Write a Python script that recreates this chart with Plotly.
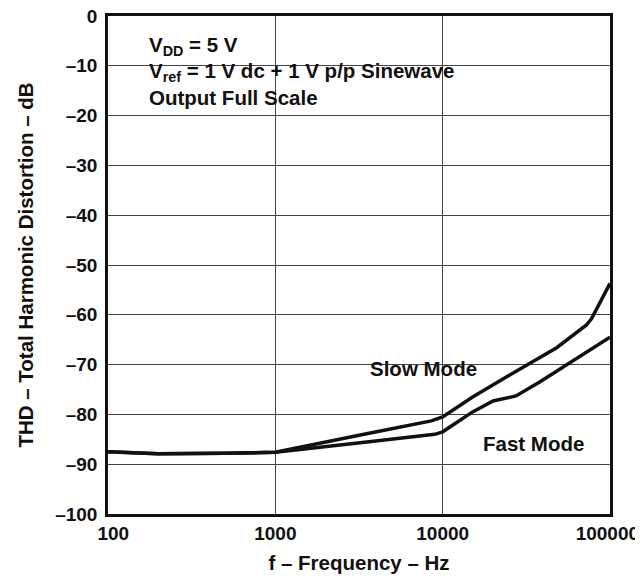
import plotly.graph_objects as go

# Slow mode curve
slow_f = [100, 200, 500, 1000, 3630, 8560, 10000, 15100, 24000, 38000, 48000, 72000, 77500, 100000]
slow_thd = [-87.5, -87.9, -87.8, -87.6, -83.8, -81.3, -80.5, -76.5, -72.5, -68.6, -66.6, -62.1, -60.8, -53.7]

# Fast mode curve
fast_f = [100, 200, 500, 1000, 3630, 8970, 10000, 15100, 20000, 27400, 38000, 60600, 75600, 100000]
fast_thd = [-87.5, -87.9, -87.8, -87.6, -85.5, -84.0, -83.5, -79.5, -77.3, -76.3, -73.5, -69.1, -67.1, -64.5]

x_ticks = [100, 1000, 10000, 100000]
x_ticktext = ["\u00a0\u00a0100", "1000", "10000", "100000\u00a0"]
y_ticks = [0, -10, -20, -30, -40, -50, -60, -70, -80, -90, -100]
y_ticktext = ["0"] + ["–" + str(-v) for v in y_ticks[1:]]

FONT = "Liberation Sans, Arial, Helvetica, sans-serif"

fig = go.Figure()
fig.add_trace(go.Scatter(x=slow_f, y=slow_thd, mode="lines",
                         line=dict(color="#111111", width=3.5), name="Slow Mode"))
fig.add_trace(go.Scatter(x=fast_f, y=fast_thd, mode="lines",
                         line=dict(color="#111111", width=3.5), name="Fast Mode"))

axis_common = dict(showgrid=True, gridcolor="#444444", gridwidth=1,
                   showline=True, linecolor="#111111", linewidth=2.5, mirror=True,
                   zeroline=False, ticks="", automargin=False, ticklabeloverflow="allow",
                   tickfont=dict(family=FONT, size=19, color="#111111", weight="bold"))

fig.update_xaxes(type="log", range=[2, 5], tickvals=x_ticks, ticktext=x_ticktext,
                 title=dict(text="f – Frequency – Hz", standoff=14,
                            font=dict(family=FONT, size=20.5, color="#111111", weight="bold")),
                 **axis_common)
fig.update_yaxes(range=[-100, 0], tickvals=y_ticks, ticktext=y_ticktext,
                 ticklabelstandoff=4,
                 title=dict(text="THD – Total Harmonic Distortion – dB", standoff=16,
                            font=dict(family=FONT, size=20.5, color="#111111", weight="bold")),
                 **axis_common)

# white label boxes covering grid lines (drawn under the curves)
fig.add_shape(type="rect", xref="paper", yref="paper", x0=0.048, x1=0.771, y0=0.804, y1=0.974,
              fillcolor="white", line=dict(width=0), layer="between")
fig.add_shape(type="rect", xref="paper", yref="paper", x0=0.498, x1=0.785, y0=0.254, y1=0.324,
              fillcolor="white", line=dict(width=0), layer="between")

afont = dict(family=FONT, size=20.5, color="#111111", weight="bold")
fig.add_annotation(xref="paper", yref="paper", x=0.0777, y=0.939, xanchor="left", yanchor="middle",
                   text="V<sub>DD</sub> = 5 V", showarrow=False, font=afont)
fig.add_annotation(xref="paper", yref="paper", x=0.0777, y=0.887, xanchor="left", yanchor="middle",
                   text="V<sub>ref</sub> = 1 V dc + 1 V p/p Sinewave", showarrow=False, font=afont)
fig.add_annotation(xref="paper", yref="paper", x=0.0777, y=0.836, xanchor="left", yanchor="middle",
                   text="Output Full Scale", showarrow=False, font=afont)
fig.add_annotation(x=3.888, y=-70.8, xref="x", yref="y", text="Slow Mode", showarrow=False, font=afont)
fig.add_annotation(x=4.544, y=-85.8, xref="x", yref="y", text="Fast Mode", showarrow=False, font=afont)

# the page body adds an 8px offset, so margins are reduced on the left/top accordingly
fig.update_layout(width=643, height=581, showlegend=False,
                  margin=dict(l=100, r=41, t=8, b=75),
                  plot_bgcolor="white", paper_bgcolor="white")

fig.write_html("out.html")
